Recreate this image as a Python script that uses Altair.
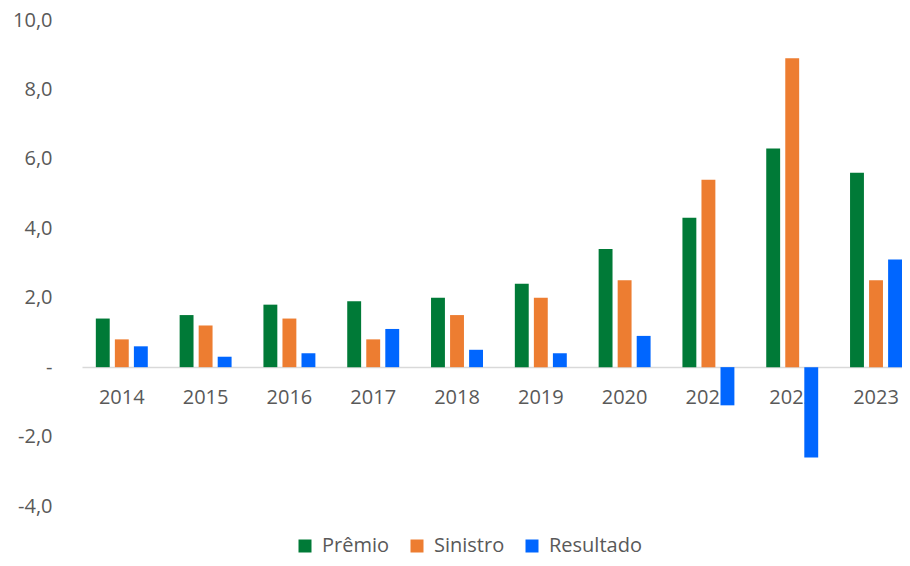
import altair as alt
import pandas as pd

anos = ["2014", "2015", "2016", "2017", "2018", "2019", "2020", "2021", "2022", "2023"]
premio = [1.4, 1.5, 1.8, 1.9, 2.0, 2.4, 3.4, 4.3, 6.3, 5.6]
sinistro = [0.8, 1.2, 1.4, 0.8, 1.5, 2.0, 2.5, 5.4, 8.9, 2.5]
resultado = [0.6, 0.3, 0.4, 1.1, 0.5, 0.4, 0.9, -1.1, -2.6, 3.1]
series = ["Prêmio", "Sinistro", "Resultado"]
cores = ["#007A37", "#ED7D31", "#0066FF"]
y_ticks = [-4, -2, 0, 2, 4, 6, 8, 10]

rows = []
for i, a in enumerate(anos):
    for s, vals in zip(series, [premio, sinistro, resultado]):
        rows.append({"ano": a, "serie": s, "valor": vals[i]})
df = pd.DataFrame(rows)

FONT = "Open Sans"
GRAY = "#595959"

chart = alt.Chart(df).mark_bar().encode(
    x=alt.X("ano:N", sort=anos,
            scale=alt.Scale(paddingInner=0.38, paddingOuter=0.0825, align=1),
            axis=alt.Axis(title=None, labelAngle=0, offset=-139, ticks=False,
                          domainColor="#d9d9d9", domainWidth=1.5,
                          labelFontSize=20, labelColor=GRAY, labelFont=FONT,
                          labelPadding=20)),
    xOffset=alt.XOffset("serie:N", sort=series, scale=alt.Scale(paddingInner=0.27)),
    y=alt.Y("valor:Q", scale=alt.Scale(domain=[-4, 10], nice=False, zero=True),
            axis=alt.Axis(title=None, values=y_ticks, grid=False, domain=False, ticks=False,
                          labelExpr="datum.value == 0 ? '-\u00a0\u00a0' : datum.value + ',0'",
                          labelFontSize=20, labelColor=GRAY, labelFont=FONT,
                          labelPadding=30)),
    color=alt.Color("serie:N", sort=series,
                    scale=alt.Scale(domain=series, range=cores),
                    legend=alt.Legend(title=None, orient="none", direction="horizontal",
                                      legendX=213, legendY=516,
                                      symbolType="square", symbolSize=169, symbolStrokeWidth=0,
                                      labelFontSize=20, labelColor=GRAY, labelFont=FONT,
                                      labelOffset=7, columnPadding=17)),
).properties(
    width=820, height=486,
    padding={"left": 74, "top": 12, "right": 0, "bottom": 52},
    autosize=alt.AutoSizeParams(type="none"),
    background="white",
).configure_view(stroke=None)

chart.save("out.html", embed_options={"renderer": "svg", "actions": False})
